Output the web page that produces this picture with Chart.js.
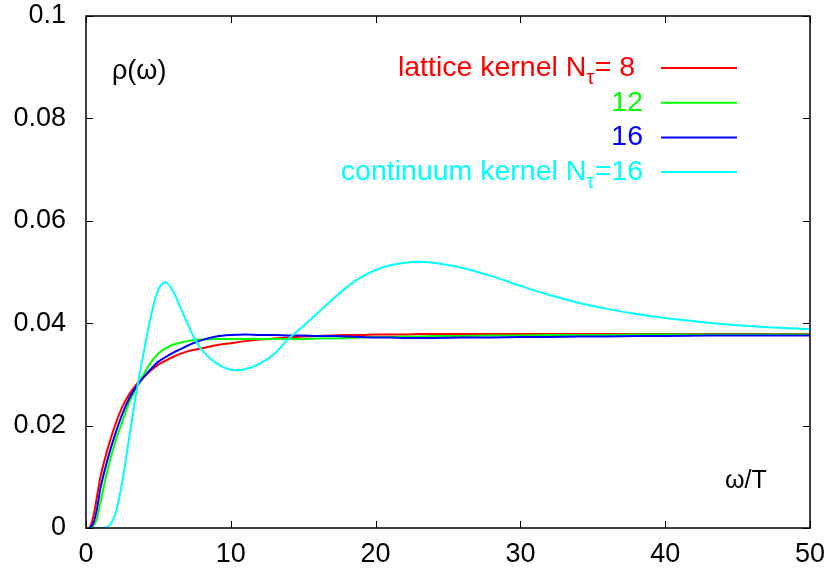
<!DOCTYPE html>
<html>
<head>
<meta charset="utf-8">
<script src="https://cdn.jsdelivr.net/npm/chart.js@4.4.1/dist/chart.umd.min.js"></script>
<style>
  html, body { margin: 0; padding: 0; background: #fff; }
  #wrap { width: 830px; height: 574px; }
</style>
</head>
<body>
<div id="wrap"><canvas id="chart" width="830" height="574"></canvas></div>
<script>
// omega/T sample points shared by all four curves
const omega = [0, 0.25, 0.5, 0.75, 1, 1.5, 2, 2.5, 3, 3.5, 4, 4.5, 5, 5.5, 6, 6.5, 7, 7.5, 8, 9, 10,
  11, 12, 13, 14, 15, 16, 17, 18, 19, 20, 21, 22, 23, 24, 26, 28, 30, 32, 34, 36, 38, 40, 43, 46, 50];

const latticeN8 = [0, 0.0001, 0.0022, 0.0060, 0.0100, 0.0155, 0.0200, 0.0236, 0.0262, 0.0281, 0.0295, 0.0308,
  0.0319, 0.0327, 0.0334, 0.0340, 0.0345, 0.0348, 0.0351, 0.0357, 0.0361,
  0.0365, 0.0368, 0.0370, 0.0372, 0.0374, 0.0375, 0.0376, 0.0377, 0.0377, 0.0378, 0.0378, 0.0378, 0.0379, 0.0379,
  0.0379, 0.0379, 0.0379, 0.0379, 0.0379, 0.0379, 0.0379, 0.0379, 0.0379, 0.0379, 0.0379];

const latticeN12 = [0, 0, 0.0004, 0.0018, 0.0050, 0.0115, 0.0166, 0.0207, 0.0246, 0.0275, 0.0301, 0.0324,
  0.0341, 0.0351, 0.0358, 0.0362, 0.0365, 0.0367, 0.0368, 0.0369, 0.0369,
  0.0369, 0.0369, 0.0369, 0.0369, 0.0369, 0.0370, 0.0370, 0.0371, 0.0372, 0.0373, 0.0373, 0.0374, 0.0374, 0.0375,
  0.0375, 0.0376, 0.0376, 0.0377, 0.0377, 0.0377, 0.0378, 0.0378, 0.0378, 0.0378, 0.0378];

const latticeN16 = [0, 0, 0.0009, 0.0036, 0.0078, 0.0135, 0.0182, 0.0222, 0.0254, 0.0277, 0.0295, 0.0311,
  0.0325, 0.0334, 0.0342, 0.0349, 0.0356, 0.0362, 0.0367, 0.0374, 0.0377,
  0.0378, 0.0377, 0.0377, 0.0376, 0.0376, 0.0375, 0.0375, 0.0374, 0.0373, 0.0372, 0.0372, 0.0371, 0.0371, 0.0371,
  0.0372, 0.0372, 0.0373, 0.0373, 0.0374, 0.0374, 0.0375, 0.0375, 0.0376, 0.0376, 0.0376];

const continuumN16 = [0, 0, 0, 0, 0, 0.0002, 0.0025, 0.0090, 0.0180, 0.0268, 0.0345, 0.0415,
  0.0466, 0.0480, 0.0463, 0.0432, 0.0400, 0.0370, 0.0348, 0.0322, 0.0309,
  0.0310, 0.0321, 0.0340, 0.0370, 0.0394, 0.0420, 0.0446, 0.0470, 0.0490, 0.0504, 0.0513, 0.0518, 0.0520, 0.0518,
  0.0508, 0.0492, 0.0473, 0.0455, 0.0440, 0.0428, 0.0418, 0.0410, 0.0401, 0.0394, 0.0388];

const xTicks = [0, 10, 20, 30, 40, 50];
const yTicks = [0, 0.02, 0.04, 0.06, 0.08, 0.1];
const yTickLabels = ['0', '0.02', '0.04', '0.06', '0.08', '0.1'];

// legend label: [text, subscript, text after subscript]
const legendLabels = [
  ['lattice kernel N', '\u03c4', '= 8 '],
  ['12', '', ''],
  ['16', '', ''],
  ['continuum kernel N', '\u03c4', '=16']
];
const yTitle = '\u03c1(\u03c9)';
const xTitle = '\u03c9/T';

const FONT = "'Liberation Sans', Arial, Helvetica, sans-serif";
const FONT_SIZE = 27;
const KEY_SIZE = 28.5;
const colors = ['#ff0000', '#00ff00', '#0000ff', '#00ffff'];

function toPoints(ys) {
  return omega.map((x, i) => ({ x: x, y: ys[i] }));
}

const series = [latticeN8, latticeN12, latticeN16, continuumN16];

const datasets = series.map((ys, i) => ({
  label: legendLabels[i].join(''),
  data: toPoints(ys),
  borderColor: colors[i],
  borderWidth: 2,
  pointRadius: 0,
  fill: false,
  tension: 0.35,
  order: series.length - i,
}));

// box around the plot, inward tick marks, texts and the gnuplot-style key
const framePlugin = {
  id: 'frame',
  afterDatasetsDraw(chart) {
    const { ctx, chartArea: a } = chart;
    const xs = chart.scales.x;
    const ys = chart.scales.y;
    ctx.save();
    ctx.strokeStyle = '#000';
    ctx.lineWidth = 1.5;
    ctx.strokeRect(a.left, a.top, a.right - a.left, a.bottom - a.top);

    ctx.lineWidth = 1;
    const tl = 7;
    ctx.beginPath();
    xTicks.forEach((v) => {
      const px = Math.round(xs.getPixelForValue(v)) + 0.5;
      ctx.moveTo(px, a.bottom); ctx.lineTo(px, a.bottom - tl);
      ctx.moveTo(px, a.top); ctx.lineTo(px, a.top + tl);
    });
    yTicks.forEach((v) => {
      const py = Math.round(ys.getPixelForValue(v)) + 0.5;
      ctx.moveTo(a.left, py); ctx.lineTo(a.left + tl, py);
      ctx.moveTo(a.right, py); ctx.lineTo(a.right - tl, py);
    });
    ctx.stroke();

    // axis titles inside the plot
    ctx.fillStyle = '#000';
    ctx.textBaseline = 'middle';
    ctx.textAlign = 'left';
    ctx.font = FONT_SIZE + 'px ' + FONT;
    ctx.fillText(yTitle, 112, 72);
    ctx.font = '25px ' + FONT;
    ctx.fillText(xTitle, 725, 481);

    // key
    const textRight = 643, lineLeft = 661, lineRight = 737;
    const subSize = Math.round(KEY_SIZE * 0.72);
    chart.data.datasets.forEach((ds, i) => {
      const y = 68 + i * 34.7;
      const [main, sub, tail] = legendLabels[i];
      ctx.font = KEY_SIZE + 'px ' + FONT;
      const w1 = ctx.measureText(main).width;
      const w3 = ctx.measureText(tail).width;
      ctx.font = subSize + 'px ' + FONT;
      const w2 = sub ? ctx.measureText(sub).width : 0;
      let x = textRight - (w1 + w2 + w3);
      const base = y + 8;
      ctx.fillStyle = ds.borderColor;
      ctx.textBaseline = 'alphabetic';
      ctx.textAlign = 'left';
      ctx.font = KEY_SIZE + 'px ' + FONT;
      ctx.fillText(main, x, base);
      x += w1;
      if (sub) {
        ctx.font = subSize + 'px ' + FONT;
        ctx.fillText(sub, x, base + 8);
        x += w2;
      }
      ctx.font = KEY_SIZE + 'px ' + FONT;
      ctx.fillText(tail, x, base);

      ctx.strokeStyle = ds.borderColor;
      ctx.lineWidth = 2;
      ctx.beginPath();
      ctx.moveTo(lineLeft, y);
      ctx.lineTo(lineRight, y);
      ctx.stroke();
    });
    ctx.restore();
  }
};

const ctx = document.getElementById('chart').getContext('2d');
new Chart(ctx, {
  type: 'line',
  data: { datasets: datasets },
  options: {
    responsive: false,
    animation: false,
    devicePixelRatio: 1,
    layout: { padding: { top: 16, right: 20, bottom: 0, left: 0 } },
    plugins: {
      legend: { display: false },
      tooltip: { enabled: false },
      title: { display: false },
    },
    scales: {
      x: {
        type: 'linear',
        min: 0,
        max: 50,
        afterBuildTicks(scale) { scale.ticks = xTicks.map((v) => ({ value: v })); },
        afterFit(scale) {
          scale.height = 46;
          scale.paddingLeft = 0;
          scale.paddingRight = 0;
        },
        grid: { display: false, drawTicks: false },
        border: { display: false },
        ticks: {
          color: '#000',
          padding: 10,
          maxRotation: 0,
          font: { family: FONT, size: FONT_SIZE },
          callback: (v) => String(v),
        },
      },
      y: {
        type: 'linear',
        min: 0,
        max: 0.1,
        afterBuildTicks(scale) { scale.ticks = yTicks.map((v) => ({ value: v })); },
        afterFit(scale) {
          scale.width = 86;
          scale.paddingTop = 0;
          scale.paddingBottom = 0;
        },
        grid: { display: false, drawTicks: false },
        border: { display: false },
        ticks: {
          color: '#000',
          padding: 20,
          font: { family: FONT, size: FONT_SIZE },
          callback: (v, i) => yTickLabels[i],
        },
      },
    },
  },
  plugins: [framePlugin],
});
</script>
</body>
</html>
